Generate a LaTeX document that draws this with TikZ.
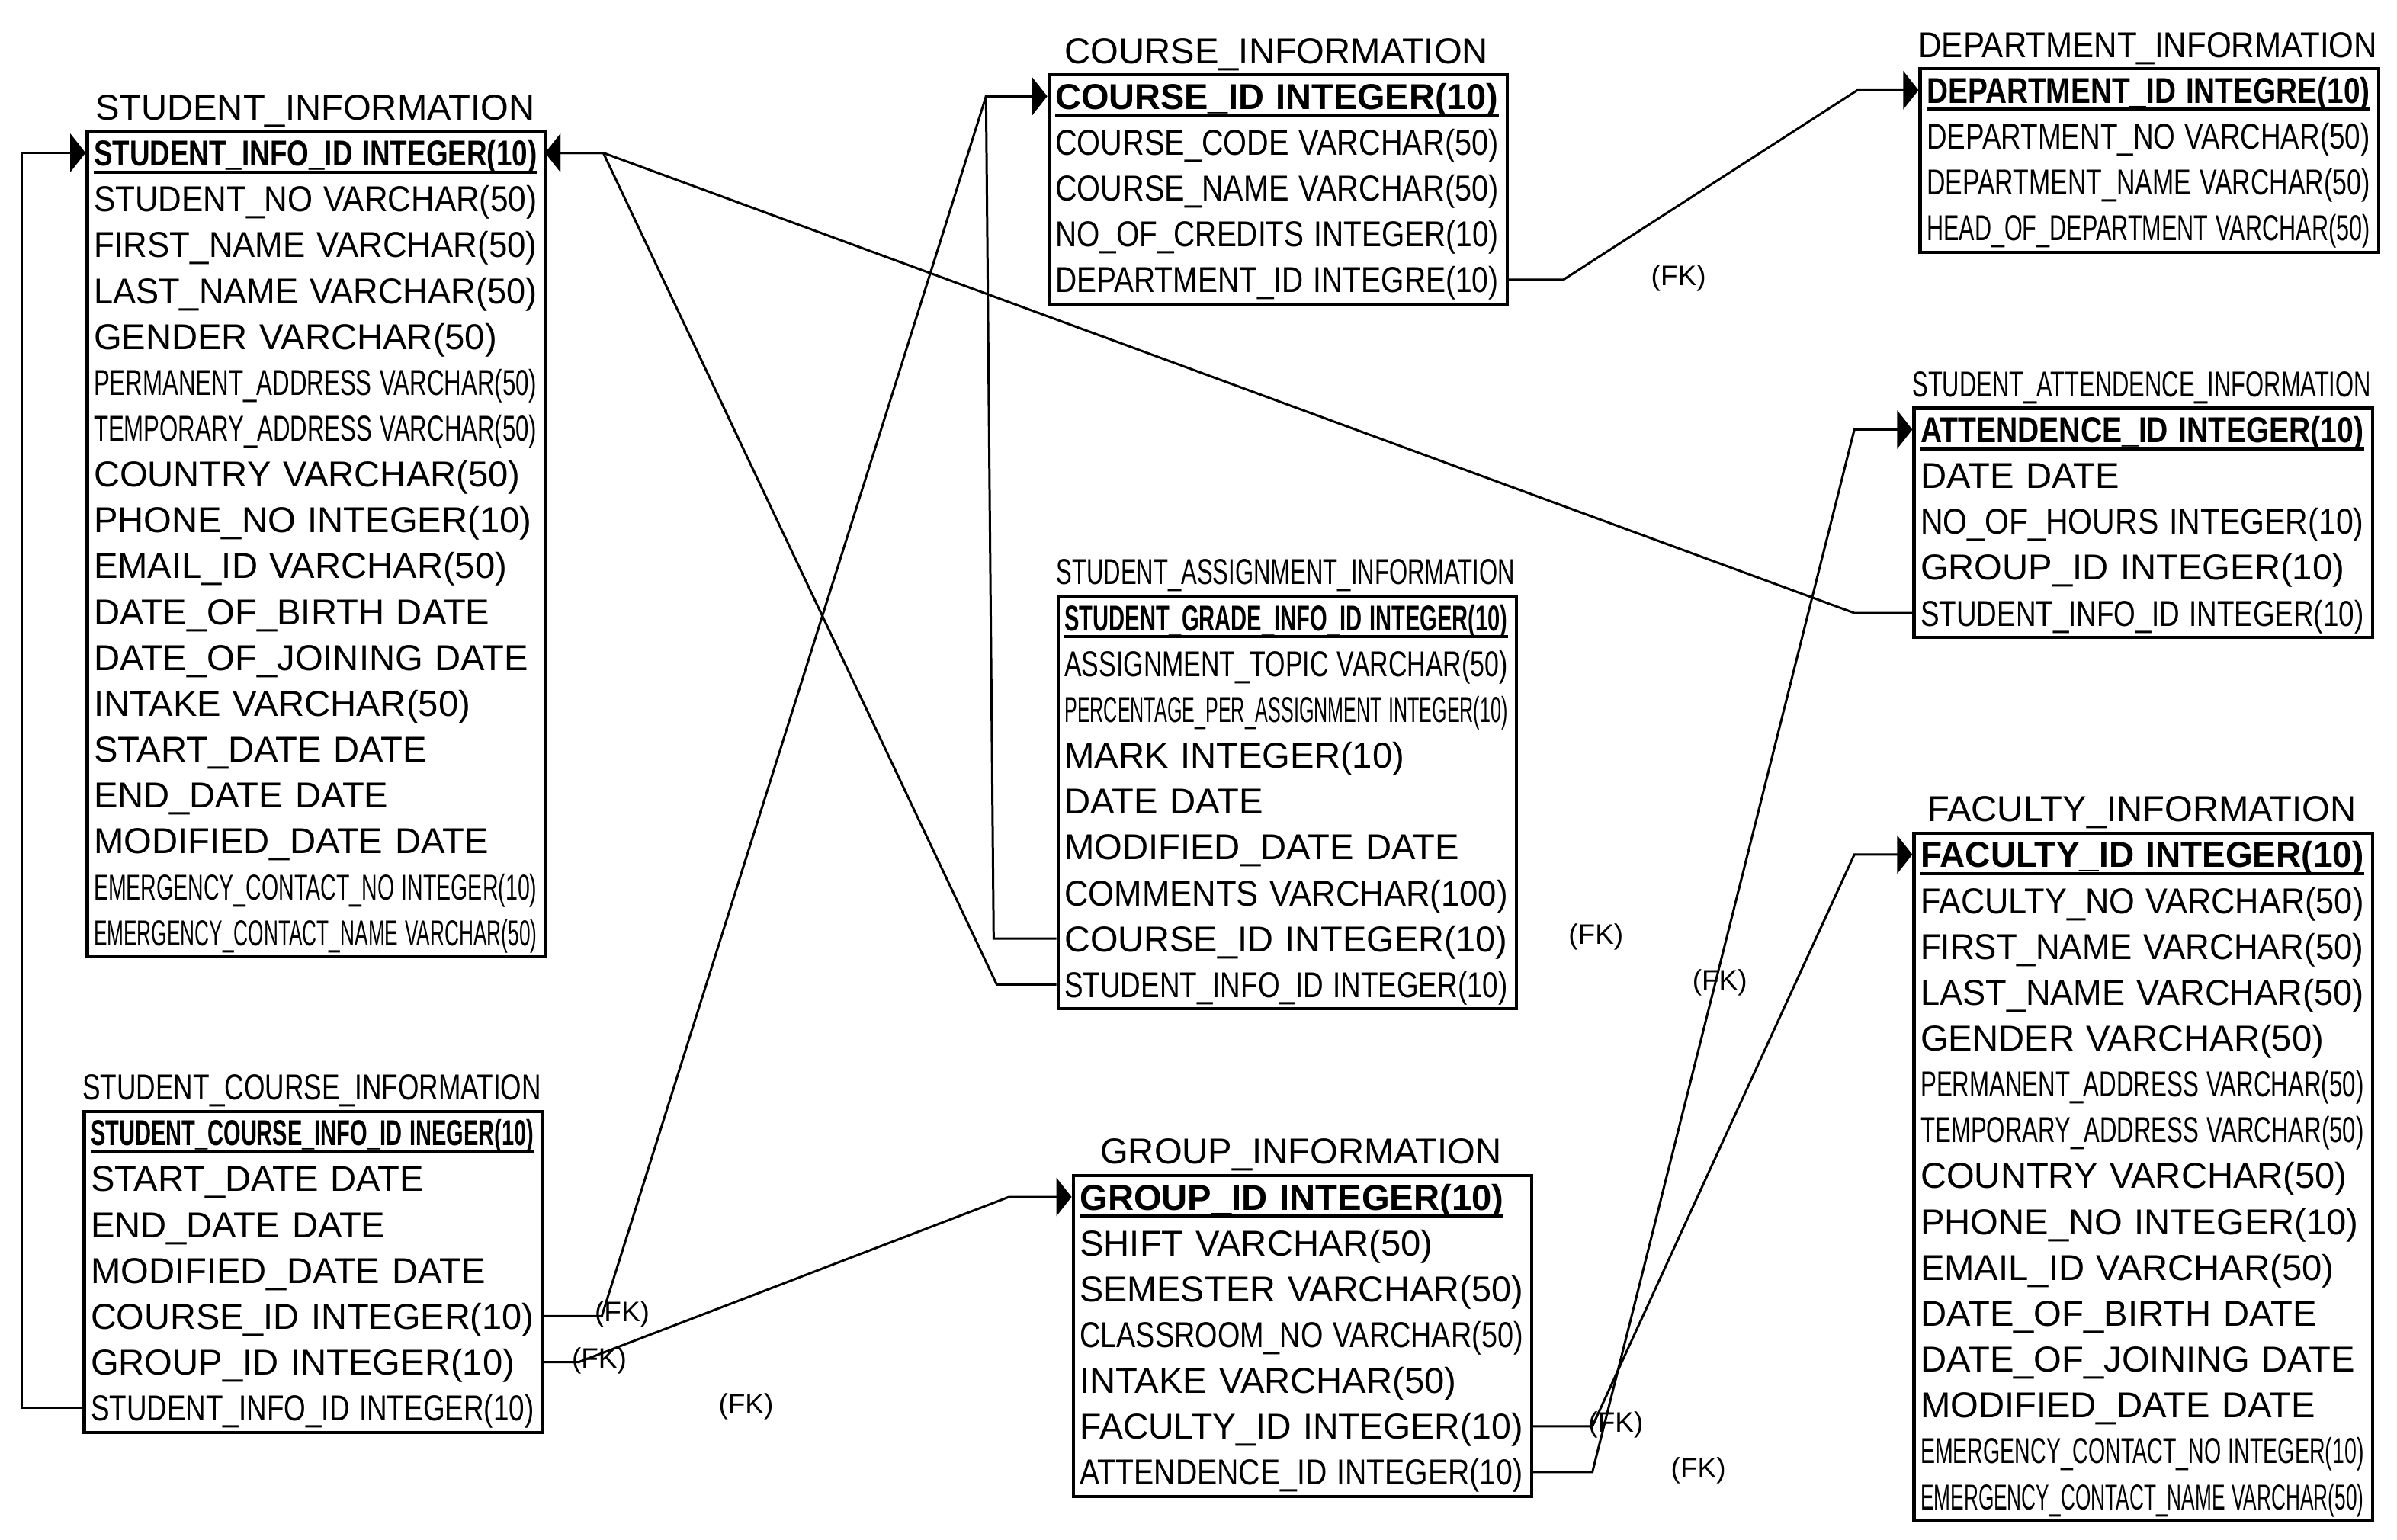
\documentclass[tikz,border=0pt]{standalone}
\usepackage{fontspec}
\setmainfont{Liberation Sans}
\usepackage{graphicx}
\usetikzlibrary{arrows.meta}

\newsavebox\rowbox
\newcommand\fitto[2]{\sbox\rowbox{#2}\ifdim\wd\rowbox>#1\relax\resizebox{#1}{\ht\rowbox}{\usebox\rowbox}\else\usebox\rowbox\fi}
\newcommand\fitrow[1]{\fitto{5.8cm}{#1}}
\newcommand\fittitle[1]{\fitto{6cm}{#1}}
\newcommand\pk[1]{\setbox0\hbox{\bfseries #1}\rlap{\rule[-0.1cm]{\wd0}{0.04cm}}\box0}

\tikzset{
  tbl/.style={draw, line width=1.2pt, anchor=north west, minimum width=6cm, inner sep=0pt},
  fieldrow/.style={anchor=west, inner xsep=0.1cm, inner ysep=0pt, text width=5.8cm, align=left,
    text height=0.45cm, text depth=0.11cm, font=\fontsize{13.4pt}{16pt}\selectfont},
  tbltitle/.style={inner sep=0pt, text width=6cm, align=center,
    text height=0.45cm, text depth=0.11cm, font=\fontsize{13.4pt}{16pt}\selectfont},
  fklbl/.style={inner sep=0pt, font=\fontsize{10.5pt}{12pt}\selectfont},
  fk/.style={line width=0.85pt, -{Triangle[length=0.2cm,width=0.5cm]}}
}

\begin{document}
\begin{tikzpicture}[x=0.02cm, y=-0.02cm]
\useasboundingbox (0,0) rectangle (1568,1007);

% STUDENT_INFORMATION
\node[tbl, minimum height=10.8cm] (siBox) at (56,85) {};
\node[tbltitle] (siTitle) at (206,70) {\fittitle{STUDENT\_INFORMATION}};
\node[fieldrow] (si1) at (56,100) {\fitrow{\pk{STUDENT\_INFO\_ID INTEGER(10)}}};
\foreach \fld [count=\i from 2] in {STUDENT\_NO VARCHAR(50), FIRST\_NAME VARCHAR(50),
  LAST\_NAME VARCHAR(50), GENDER VARCHAR(50), PERMANENT\_ADDRESS VARCHAR(50),
  TEMPORARY\_ADDRESS VARCHAR(50), COUNTRY VARCHAR(50), PHONE\_NO INTEGER(10),
  EMAIL\_ID VARCHAR(50), DATE\_OF\_BIRTH DATE, DATE\_OF\_JOINING DATE, INTAKE VARCHAR(50),
  START\_DATE DATE, END\_DATE DATE, MODIFIED\_DATE DATE, EMERGENCY\_CONTACT\_NO INTEGER(10),
  EMERGENCY\_CONTACT\_NAME VARCHAR(50)}
  \node[fieldrow] (si\i) at (56,{100+30*(\i-1)}) {\fitrow{\fld}};

% COURSE_INFORMATION
\node[tbl, minimum height=3cm] (ciBox) at (685,48) {};
\node[tbltitle] (ciTitle) at (835,33) {\fittitle{COURSE\_INFORMATION}};
\node[fieldrow] (ci1) at (685,63) {\fitrow{\pk{COURSE\_ID INTEGER(10)}}};
\foreach \fld [count=\i from 2] in {COURSE\_CODE VARCHAR(50), COURSE\_NAME VARCHAR(50),
  NO\_OF\_CREDITS INTEGER(10), DEPARTMENT\_ID INTEGRE(10)}
  \node[fieldrow] (ci\i) at (685,{63+30*(\i-1)}) {\fitrow{\fld}};

% DEPARTMENT_INFORMATION
\node[tbl, minimum height=2.4cm] (diBox) at (1255,44) {};
\node[tbltitle] (diTitle) at (1405,29) {\fittitle{DEPARTMENT\_INFORMATION}};
\node[fieldrow] (di1) at (1255,59) {\fitrow{\pk{DEPARTMENT\_ID INTEGRE(10)}}};
\foreach \fld [count=\i from 2] in {DEPARTMENT\_NO VARCHAR(50), DEPARTMENT\_NAME VARCHAR(50),
  HEAD\_OF\_DEPARTMENT VARCHAR(50)}
  \node[fieldrow] (di\i) at (1255,{59+30*(\i-1)}) {\fitrow{\fld}};

% STUDENT_ATTENDENCE_INFORMATION
\node[tbl, minimum height=3cm] (aiBox) at (1251,266) {};
\node[tbltitle] (aiTitle) at (1401,251) {\fittitle{STUDENT\_ATTENDENCE\_INFORMATION}};
\node[fieldrow] (ai1) at (1251,281) {\fitrow{\pk{ATTENDENCE\_ID INTEGER(10)}}};
\foreach \fld [count=\i from 2] in {DATE DATE, NO\_OF\_HOURS INTEGER(10), GROUP\_ID INTEGER(10),
  STUDENT\_INFO\_ID INTEGER(10)}
  \node[fieldrow] (ai\i) at (1251,{281+30*(\i-1)}) {\fitrow{\fld}};

% STUDENT_ASSIGNMENT_INFORMATION
\node[tbl, minimum height=5.4cm] (saBox) at (691,389) {};
\node[tbltitle] (saTitle) at (841,374) {\fittitle{STUDENT\_ASSIGNMENT\_INFORMATION}};
\node[fieldrow] (sa1) at (691,404) {\fitrow{\pk{STUDENT\_GRADE\_INFO\_ID INTEGER(10)}}};
\foreach \fld [count=\i from 2] in {ASSIGNMENT\_TOPIC VARCHAR(50),
  PERCENTAGE\_PER\_ASSIGNMENT INTEGER(10), MARK INTEGER(10), DATE DATE, MODIFIED\_DATE DATE,
  COMMENTS VARCHAR(100), COURSE\_ID INTEGER(10), STUDENT\_INFO\_ID INTEGER(10)}
  \node[fieldrow] (sa\i) at (691,{404+30*(\i-1)}) {\fitrow{\fld}};

% FACULTY_INFORMATION
\node[tbl, minimum height=9cm] (fiBox) at (1251,544) {};
\node[tbltitle] (fiTitle) at (1401,529) {\fittitle{FACULTY\_INFORMATION}};
\node[fieldrow] (fi1) at (1251,559) {\fitrow{\pk{FACULTY\_ID INTEGER(10)}}};
\foreach \fld [count=\i from 2] in {FACULTY\_NO VARCHAR(50), FIRST\_NAME VARCHAR(50),
  LAST\_NAME VARCHAR(50), GENDER VARCHAR(50), PERMANENT\_ADDRESS VARCHAR(50),
  TEMPORARY\_ADDRESS VARCHAR(50), COUNTRY VARCHAR(50), PHONE\_NO INTEGER(10),
  EMAIL\_ID VARCHAR(50), DATE\_OF\_BIRTH DATE, DATE\_OF\_JOINING DATE, MODIFIED\_DATE DATE,
  EMERGENCY\_CONTACT\_NO INTEGER(10), EMERGENCY\_CONTACT\_NAME VARCHAR(50)}
  \node[fieldrow] (fi\i) at (1251,{559+30*(\i-1)}) {\fitrow{\fld}};

% STUDENT_COURSE_INFORMATION
\node[tbl, minimum height=4.2cm] (scBox) at (54,726) {};
\node[tbltitle] (scTitle) at (204,711) {\fittitle{STUDENT\_COURSE\_INFORMATION}};
\node[fieldrow] (sc1) at (54,741) {\fitrow{\pk{STUDENT\_COURSE\_INFO\_ID INEGER(10)}}};
\foreach \fld [count=\i from 2] in {START\_DATE DATE, END\_DATE DATE, MODIFIED\_DATE DATE,
  COURSE\_ID INTEGER(10), GROUP\_ID INTEGER(10), STUDENT\_INFO\_ID INTEGER(10)}
  \node[fieldrow] (sc\i) at (54,{741+30*(\i-1)}) {\fitrow{\fld}};

% GROUP_INFORMATION
\node[tbl, minimum height=4.2cm] (giBox) at (701,768) {};
\node[tbltitle] (giTitle) at (851,753) {\fittitle{GROUP\_INFORMATION}};
\node[fieldrow] (gi1) at (701,783) {\fitrow{\pk{GROUP\_ID INTEGER(10)}}};
\foreach \fld [count=\i from 2] in {SHIFT VARCHAR(50), SEMESTER VARCHAR(50),
  CLASSROOM\_NO VARCHAR(50), INTAKE VARCHAR(50), FACULTY\_ID INTEGER(10),
  ATTENDENCE\_ID INTEGER(10)}
  \node[fieldrow] (gi\i) at (701,{783+30*(\i-1)}) {\fitrow{\fld}};

% foreign keys
\draw[fk] (sc7.west) -- ++(-40,0) |- (si1.west);
\draw[fk] (ai5.west) -- ++(-38,0) -- ([xshift=0.76cm]si1.east) -- (si1.east);
\draw[fk] (sa9.west) -- ++(-39,0) -- ([xshift=0.76cm]si1.east) -- (si1.east);
\draw[fk] (sa8.west) -- ++(-41,0) -- ([xshift=-0.8cm]ci1.west) -- (ci1.west);
\draw[fk] (sc5.east) -- ++(39,0) -- ([xshift=-0.8cm]ci1.west) -- (ci1.west);
\draw[fk] (sc6.east) -- ++(24,0) -- ([xshift=-0.82cm]gi1.west) -- (gi1.west);
\draw[fk] (ci5.east) -- ++(37,0) -- ([xshift=-0.8cm]di1.west) -- (di1.west);
\draw[fk] (gi6.east) -- ++(40,0) -- ([xshift=-0.76cm]fi1.west) -- (fi1.west);
\draw[fk] (gi7.east) -- ++(40,0) -- ([xshift=-0.76cm]ai1.west) -- (ai1.west);

\node[fklbl] (fkA) at (1098,182) {(FK)};
\node[fklbl] (fkB) at (1044,613) {(FK)};
\node[fklbl] (fkC) at (1125,643) {(FK)};
\node[fklbl] (fkD) at (407,860) {(FK)};
\node[fklbl] (fkE) at (392,890) {(FK)};
\node[fklbl] (fkF) at (488,920) {(FK)};
\node[fklbl] (fkG) at (1057,932) {(FK)};
\node[fklbl] (fkH) at (1111,962) {(FK)};
\end{tikzpicture}
\end{document}
